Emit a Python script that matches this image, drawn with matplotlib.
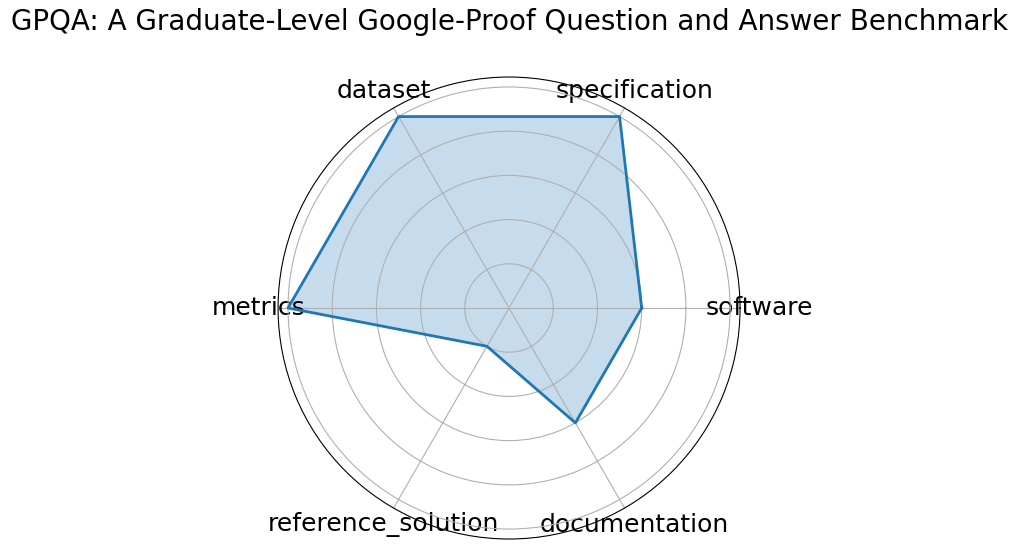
import numpy as np
import matplotlib.pyplot as plt

categories = ["software", "specification", "dataset", "metrics",
              "reference_solution", "documentation"]
scores = [0.6, 1.0, 1.0, 1.0, 0.2, 0.6]
title = "GPQA: A Graduate-Level Google-Proof Question and Answer Benchmark"

angles = np.linspace(0, 2 * np.pi, len(categories), endpoint=False)
loop_angles = np.append(angles, angles[0])
loop_scores = scores + scores[:1]

fig = plt.figure(figsize=(10.17, 5.49), dpi=100)
ax = fig.add_axes([0.2734, 0.0182, 0.4543, 0.8415], projection="polar")

ax.plot(loop_angles, loop_scores, color="tab:blue", linewidth=2)
ax.fill(loop_angles, loop_scores, color="tab:blue", alpha=0.25)

ax.set_xticks(angles)
ax.set_xticklabels(categories, fontsize=18)
ax.set_yticks([0.2, 0.4, 0.6, 0.8, 1.0])
ax.set_yticklabels([])
ax.set_ylim(0, 1.045)

fig.text(0.5005, 1 - 22 / 549, title, fontsize=20, ha="center", va="center")

fig.savefig("out.png", dpi=100)
